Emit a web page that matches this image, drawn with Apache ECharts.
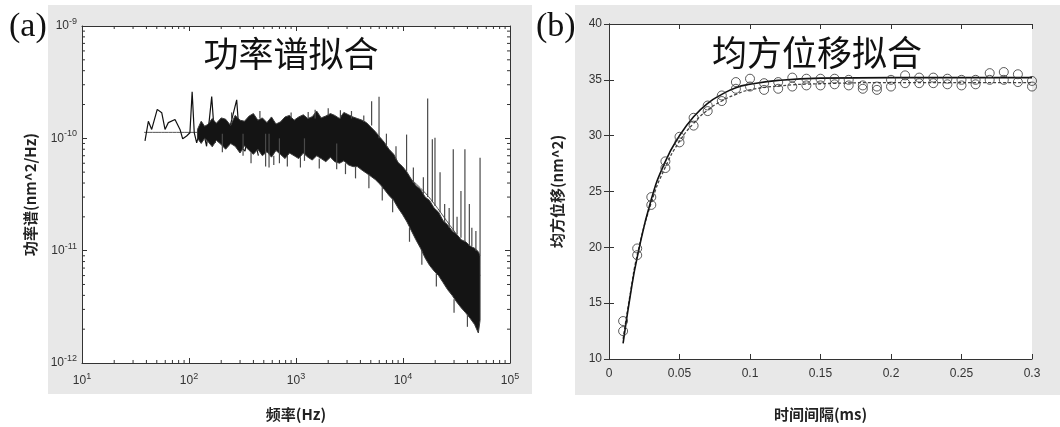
<!DOCTYPE html>
<html>
<head>
<meta charset="utf-8">
<script src="https://cdn.jsdelivr.net/npm/echarts@6/dist/echarts.min.js"></script>
<style>
html,body{margin:0;padding:0;background:#fff;}
#c{width:1060px;height:427px;}
</style>
</head>
<body>
<div id="c"></div>
<script>
// ---------- Panel (a): power spectrum ----------
const lowFreq = [38.8, 41.7, 44.8, 50.5, 55.6, 59.7, 64.1, 74, 82.4, 87.3, 95, 102, 107, 112, 118, 131, 146, 163, 175, 195, 217, 242, 279, 300, 334, 372, 445];
const lowPsd  = [9.5e-11, 1.42e-10, 1.2e-10, 1.81e-10, 1.69e-10, 1.2e-10, 1.38e-10, 1.47e-10, 1.2e-10, 9.9e-11, 1.05e-10, 1.12e-10, 2.6e-10, 1.12e-10, 9.1e-11, 1.38e-10, 8.5e-11, 2.35e-10, 9.1e-11, 1.38e-10, 9.1e-11, 1.28e-10, 2.2e-10, 8.5e-11, 7.7e-11, 1.47e-10, 7e-11];

const bandFreq  = [120, 130, 140, 150, 165, 180, 200, 220, 245, 270, 300, 330, 365, 400, 440, 485, 535, 590, 650, 715, 790, 870, 960, 1060, 1170, 1290, 1420, 1560, 1720, 1900, 2100, 2300, 2550, 2800, 3100, 3400, 3750, 4150, 4550, 5000, 5500, 6100, 6700, 7400, 8200, 9000, 9900, 10900, 12000, 13200, 14600, 16100, 17700, 19500, 21500, 23700, 26100, 28800, 31700, 35000, 38500, 42400, 46700, 50600, 52500];
const bandUpper = [1.2e-10, 1.42e-10, 1.28e-10, 1.33e-10, 1.5e-10, 1.36e-10, 1.52e-10, 1.48e-10, 1.3e-10, 1.6e-10, 1.45e-10, 1.42e-10, 1.58e-10, 1.66e-10, 1.45e-10, 1.52e-10, 1.38e-10, 1.55e-10, 1.34e-10, 1.4e-10, 1.55e-10, 1.6e-10, 1.45e-10, 1.55e-10, 1.62e-10, 1.5e-10, 1.56e-10, 1.75e-10, 1.52e-10, 1.58e-10, 1.66e-10, 1.6e-10, 1.5e-10, 1.7e-10, 1.62e-10, 1.55e-10, 1.5e-10, 1.45e-10, 1.38e-10, 1.26e-10, 1.15e-10, 1.02e-10, 9.2e-11, 8.0e-11, 7.2e-11, 6.1e-11, 5.6e-11, 5.0e-11, 4.3e-11, 3.8e-11, 3.5e-11, 3.0e-11, 2.8e-11, 2.4e-11, 2.2e-11, 1.85e-11, 1.7e-11, 1.5e-11, 1.4e-11, 1.25e-11, 1.2e-11, 1.1e-11, 1.05e-11, 9.8e-12, 9e-12];
const bandLower = [1.0e-10, 9.0e-11, 1.0e-10, 9.4e-11, 8.4e-11, 9.6e-11, 8.8e-11, 8.0e-11, 9.0e-11, 8.5e-11, 7.4e-11, 8.6e-11, 7.8e-11, 7.2e-11, 8.0e-11, 7.0e-11, 7.6e-11, 6.8e-11, 7.8e-11, 7.2e-11, 6.6e-11, 7.4e-11, 7.0e-11, 6.6e-11, 7.4e-11, 6.8e-11, 6.4e-11, 7.0e-11, 6.6e-11, 6.2e-11, 6.8e-11, 6.2e-11, 6.0e-11, 6.3e-11, 5.8e-11, 5.6e-11, 5.6e-11, 5.2e-11, 4.9e-11, 4.6e-11, 4.3e-11, 3.9e-11, 3.5e-11, 3.1e-11, 2.8e-11, 2.4e-11, 2.1e-11, 1.8e-11, 1.5e-11, 1.25e-11, 1.05e-11, 8.6e-12, 7.4e-12, 6.6e-12, 6.0e-12, 5.2e-12, 4.5e-12, 4.0e-12, 3.5e-12, 3.1e-12, 2.8e-12, 2.5e-12, 2.2e-12, 1.85e-12, 2.4e-12];

// isolated spikes, dips and edge hairlines: frequency, from, to
const segFreq = [1510, 1300, 2600, 3300, 5090, 5970, 10800, 17000, 18800, 19900, 22200, 29500, 34800, 37900, 41700, 52500,
  520, 560, 700, 1200, 2400, 205, 320,
  250, 460, 900, 2000, 4300, 7000, 8600, 12500, 15500, 24500, 27000, 32000, 44000, 48000,
  380, 620, 830, 1100, 1650, 2900, 3600, 4800, 6400, 8000, 11500, 15000, 20500, 30000, 40000];
const segFrom = [1.5e-10, 1.5e-10, 1.5e-10, 1.5e-10, 1.3e-10, 1.0e-10, 5e-11, 3e-11, 2.7e-11, 2.5e-11, 2.2e-11, 1.5e-11, 1.3e-11, 1.2e-11, 1.1e-11, 9e-12,
  1.1e-10, 1.1e-10, 1.0e-10, 1.0e-10, 9e-11, 1.1e-10, 1.1e-10,
  1.45e-10, 1.5e-10, 1.5e-10, 1.6e-10, 1.4e-10, 8.5e-11, 6.5e-11, 4e-11, 3.2e-11, 1.8e-11, 1.6e-11, 1.4e-11, 1.1e-11, 1.0e-11,
  7.5e-11, 7e-11, 7e-11, 6.8e-11, 6.6e-11, 6e-11, 5.6e-11, 4.8e-11, 3.7e-11, 2.9e-11, 1.6e-11, 1e-11, 6.3e-12, 3.7e-12, 2.7e-12];
const segTo   = [1.8e-10, 1.72e-10, 1.78e-10, 1.75e-10, 2.14e-10, 2.34e-10, 1.08e-10, 2.26e-10, 9.8e-11, 1.01e-10, 5e-11, 8e-11, 3.4e-11, 8e-11, 2.6e-11, 6.7e-11,
  5.6e-11, 5.5e-11, 6e-11, 6.3e-11, 5.3e-11, 7.5e-11, 7e-11,
  1.7e-10, 1.75e-10, 1.7e-10, 1.85e-10, 1.6e-10, 1.1e-10, 8.5e-11, 5.5e-11, 4.5e-11, 2.6e-11, 2.4e-11, 2e-11, 1.6e-11, 1.5e-11,
  6e-11, 5.8e-11, 5.6e-11, 5.5e-11, 5.4e-11, 4.8e-11, 4.4e-11, 3.6e-11, 2.8e-11, 2.2e-11, 1.2e-11, 7.5e-12, 4.8e-12, 2.8e-12, 2.1e-12];

const fitFreq = [38, 100, 1000, 3000, 10000, 30000, 52500];
const fitPsd  = [1.13e-10, 1.13e-10, 1.1e-10, 1.0e-10, 5e-11, 1.5e-11, 6e-12];

const xTicksA = ['10^1', '10^2', '10^3', '10^4', '10^5'];
const yTicksA = ['10^-12', '10^-11', '10^-10', '10^-9'];

// ---------- Panel (b): mean square displacement ----------
const lagTime = [0.01, 0.02, 0.03, 0.04, 0.05, 0.06, 0.07, 0.08, 0.09, 0.10, 0.11, 0.12, 0.13, 0.14, 0.15, 0.16, 0.17, 0.18, 0.19, 0.20, 0.21, 0.22, 0.23, 0.24, 0.25, 0.26, 0.27, 0.28, 0.29, 0.30];
const msdA = [13.4, 19.9, 24.5, 27.7, 29.9, 31.6, 32.7, 33.6, 34.8, 35.1, 34.7, 34.8, 35.2, 35.1, 35.1, 35.1, 35.0, 34.5, 34.4, 35.0, 35.4, 35.2, 35.2, 35.1, 35.0, 35.0, 35.6, 35.7, 35.5, 34.9];
const msdB = [12.5, 19.3, 23.8, 27.1, 29.4, 30.9, 32.2, 33.1, 34.2, 34.4, 34.1, 34.2, 34.4, 34.5, 34.5, 34.6, 34.5, 34.2, 34.1, 34.4, 34.7, 34.7, 34.7, 34.6, 34.5, 34.6, 35.0, 35.0, 34.8, 34.4];
const fitT      = [0.01, 0.015, 0.02, 0.03, 0.04, 0.05, 0.06, 0.07, 0.08, 0.09, 0.10, 0.12, 0.15, 0.20, 0.30];
const fitSolid  = [11.4, 15.6, 19.1, 24.3, 27.7, 30.0, 31.7, 32.9, 33.7, 34.3, 34.6, 34.95, 35.15, 35.2, 35.2];
const fitDashed = [11.8, 15.8, 19.3, 24.0, 27.2, 29.5, 31.1, 32.3, 33.1, 33.7, 34.1, 34.45, 34.65, 34.75, 34.75];

// ---------- chart ----------
const chart = echarts.init(document.getElementById('c'));
const SANS = '"Liberation Sans", Arial, "Noto Sans CJK SC", sans-serif';
const CJK = '"Noto Sans CJK SC", "Liberation Sans", sans-serif';
const AX = '#333';

function supFmt(v) {
  const e = Math.round(Math.log10(v));
  return '{b|10}{s|' + e + '}';
}
const supRich = {
  b: { fontSize: 12, color: '#333', fontFamily: SANS },
  s: { fontSize: 9, color: '#333', fontFamily: SANS, padding: [0, 0, 9, 0] }
};

// minor tick positions for log axes (axis decoration)
const minorX = [], minorY = [];
for (let d = 1; d < 5; d++) for (let k = 2; k <= 9; k++) minorX.push(k * Math.pow(10, d));
for (let d = -12; d < -9; d++) for (let k = 2; k <= 9; k++) minorY.push(k * Math.pow(10, d));

function logAxisBase(extra) {
  return Object.assign({
    type: 'log', logBase: 10,
    axisLine: { show: true, lineStyle: { color: AX, width: 1 } },
    axisTick: { show: true, inside: true, length: 5, lineStyle: { color: AX } },
    splitLine: { show: false }, minorTick: { show: false }
  }, extra);
}
function valAxisBase(extra) {
  return Object.assign({
    type: 'value',
    axisLine: { show: true, lineStyle: { color: AX, width: 1 } },
    axisTick: { show: true, inside: true, length: 5, lineStyle: { color: AX } },
    splitLine: { show: false }
  }, extra);
}

const option = {
  animation: false,
  backgroundColor: '#fff',
  graphic: [
    { type: 'rect', z: -10, shape: { x: 48, y: 5, width: 484, height: 389 }, style: { fill: '#e8e8e8' }, silent: true },
    { type: 'rect', z: -10, shape: { x: 575, y: 5, width: 485, height: 390 }, style: { fill: '#e8e8e8' }, silent: true },
    { type: 'text', left: 9, top: 10, style: { text: '(a)', font: '34px "Liberation Serif", serif', fill: '#111' } },
    { type: 'text', left: 536, top: 10, style: { text: '(b)', font: '34px "Liberation Serif", serif', fill: '#111' } },
    { type: 'text', x: 291, y: 54, style: { text: '功率谱拟合', font: '35px ' + CJK, fill: '#111', align: 'center', verticalAlign: 'middle' } },
    { type: 'text', x: 817, y: 53, style: { text: '均方位移拟合', font: '35px ' + CJK, fill: '#111', align: 'center', verticalAlign: 'middle' } }
  ],
  grid: [
    { left: 82, top: 26, width: 428, height: 339, show: true, backgroundColor: '#fff', borderWidth: 0 },
    { left: 609, top: 24, width: 423, height: 339, show: true, backgroundColor: '#fff', borderWidth: 0 }
  ],
  xAxis: [
    logAxisBase({ gridIndex: 0, min: 10, max: 100000, position: 'bottom',
      axisLabel: { formatter: supFmt, rich: supRich, margin: 9 },
      name: '频率(Hz)', nameLocation: 'middle', nameGap: 44,
      nameTextStyle: { fontSize: 15, fontWeight: 'bold', color: '#222', fontFamily: CJK } }),
    logAxisBase({ gridIndex: 0, min: 10, max: 100000, position: 'top', axisLabel: { show: false } }),
    valAxisBase({ gridIndex: 1, min: 0, max: 0.3, interval: 0.05, position: 'bottom',
      axisLabel: { fontSize: 12, color: '#333', fontFamily: SANS, margin: 9 },
      name: '时间间隔(ms)', nameLocation: 'middle', nameGap: 48,
      nameTextStyle: { fontSize: 15, fontWeight: 'bold', color: '#222', fontFamily: CJK } }),
    valAxisBase({ gridIndex: 1, min: 0, max: 0.3, interval: 0.05, position: 'top', axisLabel: { show: false } })
  ],
  yAxis: [
    logAxisBase({ gridIndex: 0, min: 1e-12, max: 1e-9, position: 'left',
      axisLabel: { formatter: supFmt, rich: supRich, margin: 5 },
      name: '功率谱(nm^2/Hz)', nameLocation: 'middle', nameGap: 44,
      nameTextStyle: { fontSize: 15, fontWeight: 'bold', color: '#222', fontFamily: CJK } }),
    logAxisBase({ gridIndex: 0, min: 1e-12, max: 1e-9, position: 'right', axisLabel: { show: false } }),
    valAxisBase({ gridIndex: 1, min: 10, max: 40, interval: 5, position: 'left',
      axisLabel: { fontSize: 12, color: '#333', fontFamily: SANS, margin: 7 },
      name: '均方位移(nm^2)', nameLocation: 'middle', nameGap: 44,
      nameTextStyle: { fontSize: 15, fontWeight: 'bold', color: '#222', fontFamily: CJK } }),
    valAxisBase({ gridIndex: 1, min: 10, max: 40, interval: 5, position: 'right', axisLabel: { show: false } })
  ],
  series: [
    { type: 'custom', xAxisIndex: 0, yAxisIndex: 0, silent: true, clip: false,
      data: minorX.map(v => [v, 1e-12]),
      renderItem: (p, api) => {
        const b = api.coord([api.value(0), 1e-12]);
        const t = api.coord([api.value(0), 1e-9]);
        return { type: 'group', children: [
          { type: 'line', shape: { x1: b[0], y1: b[1], x2: b[0], y2: b[1] - 3 }, style: { stroke: AX, lineWidth: 1 } },
          { type: 'line', shape: { x1: t[0], y1: t[1], x2: t[0], y2: t[1] + 3 }, style: { stroke: AX, lineWidth: 1 } }
        ] };
      } },
    { type: 'custom', xAxisIndex: 0, yAxisIndex: 0, silent: true, clip: false,
      data: minorY.map(v => [10, v]),
      renderItem: (p, api) => {
        const l = api.coord([10, api.value(1)]);
        const r = api.coord([100000, api.value(1)]);
        return { type: 'group', children: [
          { type: 'line', shape: { x1: l[0], y1: l[1], x2: l[0] + 3, y2: l[1] }, style: { stroke: AX, lineWidth: 1 } },
          { type: 'line', shape: { x1: r[0], y1: r[1], x2: r[0] - 3, y2: r[1] }, style: { stroke: AX, lineWidth: 1 } }
        ] };
      } },
    { type: 'line', xAxisIndex: 0, yAxisIndex: 0, data: fitFreq.map((f, i) => [f, fitPsd[i]]),
      symbol: 'none', lineStyle: { color: '#555', width: 1 }, smooth: true, z: 2 },
    { type: 'line', xAxisIndex: 0, yAxisIndex: 0, data: lowFreq.map((f, i) => [f, lowPsd[i]]),
      symbol: 'none', lineStyle: { color: '#111', width: 1.2 }, z: 3 },
    { type: 'custom', xAxisIndex: 0, yAxisIndex: 0, silent: true, z: 4,
      data: bandFreq.map((f, i) => [f, bandUpper[i], bandLower[i]]),
      renderItem: (p, api) => {
        if (p.dataIndex !== 0) return null;
        const pts = [];
        for (let i = 0; i < bandFreq.length; i++) pts.push(api.coord([bandFreq[i], bandUpper[i]]));
        for (let i = bandFreq.length - 1; i >= 0; i--) pts.push(api.coord([bandFreq[i], bandLower[i]]));
        return { type: 'polygon', shape: { points: pts }, style: { fill: '#141414', stroke: '#3a3a3a', lineWidth: 1 } };
      } },
    { type: 'custom', xAxisIndex: 0, yAxisIndex: 0, silent: true, z: 5,
      data: segFreq.map((f, i) => [f, segFrom[i], segTo[i]]),
      renderItem: (p, api) => {
        const a = api.coord([api.value(0), api.value(1)]);
        const b = api.coord([api.value(0), api.value(2)]);
        return { type: 'line', shape: { x1: a[0], y1: a[1], x2: b[0], y2: b[1] }, style: { stroke: '#4a4a4a', lineWidth: 1.2 } };
      } },

    { type: 'line', xAxisIndex: 2, yAxisIndex: 2, data: fitT.map((t, i) => [t, fitDashed[i]]),
      symbol: 'none', smooth: true, lineStyle: { color: '#444', width: 1.3, type: [3, 2] }, z: 3 },
    { type: 'line', xAxisIndex: 2, yAxisIndex: 2, data: fitT.map((t, i) => [t, fitSolid[i]]),
      symbol: 'none', smooth: true, lineStyle: { color: '#111', width: 1.6 }, z: 3 },
    { type: 'scatter', xAxisIndex: 2, yAxisIndex: 2, data: lagTime.map((t, i) => [t, msdA[i]]),
      symbol: 'circle', symbolSize: 9, itemStyle: { color: 'rgba(255,255,255,0)', borderColor: '#333', borderWidth: 1 }, z: 4 },
    { type: 'scatter', xAxisIndex: 2, yAxisIndex: 2, data: lagTime.map((t, i) => [t, msdB[i]]),
      symbol: 'circle', symbolSize: 9, itemStyle: { color: 'rgba(255,255,255,0)', borderColor: '#333', borderWidth: 1 }, z: 4 }
  ]
};
chart.setOption(option);
</script>
</body>
</html>
